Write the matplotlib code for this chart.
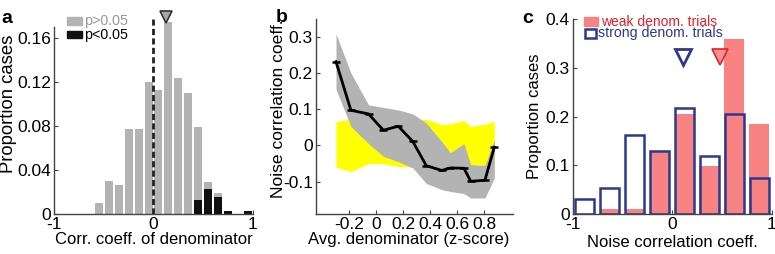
import numpy as np
import matplotlib
matplotlib.use("Agg")
import matplotlib.pyplot as plt
from matplotlib.patches import Rectangle

plt.rcParams["font.family"] = ["Liberation Sans", "DejaVu Sans"]
plt.rcParams["axes.unicode_minus"] = False

# ---- panel a: histogram of correlation coefficients ----
A_CENTERS = [-0.55, -0.45, -0.35, -0.25, -0.15, -0.05, 0.05, 0.15,
             0.25, 0.35, 0.45, 0.55, 0.65, 0.75, 0.85, 0.95]
A_ALL = [0.010, 0.030, 0.026, 0.077, 0.077, 0.120, 0.113, 0.174,
         0.123, 0.110, 0.079, 0.029, 0.019, 0.003, 0.0, 0.003]
A_SIG = [0, 0, 0, 0, 0, 0, 0, 0,
         0, 0, 0.0124, 0.0224, 0.0157, 0.003, 0.0, 0.003]
A_MEDIAN = 0.128

# ---- panel b: noise correlation vs avg denominator ----
B_X = [-0.295, -0.185, -0.055, 0.055, 0.165, 0.272, 0.372, 0.487,
       0.55, 0.65, 0.70, 0.805, 0.874]
B_Y = [0.231, 0.097, 0.087, 0.042, 0.053, 0.011, -0.056, -0.069,
       -0.062, -0.063, -0.099, -0.096, -0.005]
B_GRAY_HI = [0.308, 0.200, 0.112, 0.105, 0.098, 0.087, 0.062, 0.010,
             -0.020, 0.005, -0.053, -0.055, 0.016]
B_GRAY_LO = [0.155, 0.052, 0.005, -0.030, -0.045, -0.062, -0.105, -0.122,
             -0.127, -0.133, -0.145, -0.145, -0.090]
B_YEL_HI = [0.066, 0.073, 0.070, 0.070, 0.070, 0.070, 0.072, 0.057,
            0.060, 0.069, 0.052, 0.059, 0.066]
B_YEL_LO = [-0.060, -0.072, -0.050, -0.050, -0.058, -0.060, -0.060, -0.060,
            -0.055, -0.045, -0.053, -0.055, -0.050]

# ---- panel c: weak vs strong denominator trials ----
C_CENTERS = [-0.875, -0.625, -0.375, -0.125, 0.125, 0.375, 0.625, 0.875]
C_WEAK = [0.0, 0.010, 0.010, 0.130, 0.205, 0.098, 0.359, 0.185]
C_STRONG = [0.031, 0.053, 0.163, 0.130, 0.218, 0.120, 0.206, 0.075]
C_MED_WEAK = 0.48
C_MED_STRONG = 0.107

W, H = 775, 254
RED = "#F98383"
RED_TXT = "#E4202A"
NAVY = "#2B3990"
GRAY = "#B3B3B3"


def px(x, y):
    return x / W, 1 - y / H


def style(ax):
    for s in ("top", "right"):
        ax.spines[s].set_visible(False)
    for s in ("left", "bottom"):
        ax.spines[s].set_color("#444444")
        ax.spines[s].set_linewidth(1.0)
    ax.tick_params(direction="in", length=3, color="#444444",
                   labelsize=12.5, pad=2)


fig = plt.figure(figsize=(W / 100, H / 100), dpi=100)

# panel a
axa = fig.add_axes([54 / W, 1 - 214 / H, (253 - 54) / W, (214 - 26.7) / H])
axa.bar(A_CENTERS, A_ALL, width=0.08, color=GRAY, clip_on=False)
axa.bar(A_CENTERS, A_SIG, width=0.08, color="#111111", clip_on=False)
axa.plot([0, 0], [0, 0.178], color="#222222", lw=2, ls=(0, (2.2, 1.2)),
         clip_on=False)
axa.plot(A_MEDIAN, 0.179, marker="v", ms=9, mfc="#A8A8A8", mec="#333333",
         mew=1.2, clip_on=False)
axa.set_xlim(-1, 1)
axa.set_ylim(0, 0.17)
axa.set_xticks([-1, 0, 1])
axa.set_xticklabels(["-1", "0", "1"])
axa.set_yticks([0, 0.04, 0.08, 0.12, 0.16])
axa.set_yticklabels(["0", "0.04", "0.08", "0.12", "0.16"])
style(axa)
axa.set_xlabel("Corr. coeff. of denominator", fontsize=12)
axa.set_ylabel("Proportion cases", fontsize=13.3)
axa.xaxis.set_label_coords(0.5, -0.096)
axa.yaxis.set_label_coords(-0.186, 0.59)

# panel b
axb = fig.add_axes([315.7 / W, 1 - 214.3 / H, (512.7 - 315.7) / W,
                    (214.3 - 18.6) / H])
axb.fill_between(B_X, B_YEL_LO, B_YEL_HI, color="#FFFF00", lw=0)
axb.fill_between(B_X, B_GRAY_LO, B_GRAY_HI, color=GRAY, lw=0)
axb.plot(B_X, B_Y, color="black", lw=2, marker="_", ms=6, mew=1.8)
axb.set_xlim(-0.445, 1.01)
axb.set_ylim(-0.19, 0.35)
axb.set_xticks([-0.2, 0, 0.2, 0.4, 0.6, 0.8])
axb.set_xticklabels(["-0.2", "0", "0.2", "0.4", "0.6", "0.8"])
axb.set_yticks([-0.1, 0, 0.1, 0.2, 0.3])
axb.set_yticklabels(["-0.1", "0", "0.1", "0.2", "0.3"])
style(axb)
axb.set_xlabel("Avg. denominator (z-score)", fontsize=12)
axb.set_ylabel("Noise correlation coeff.", fontsize=12.6)
axb.xaxis.set_label_coords(0.47, -0.088)
axb.yaxis.set_label_coords(-0.153, 0.54)

# panel c
axc = fig.add_axes([572.5 / W, 1 - 214.3 / H, (771.7 - 572.5) / W,
                    (214.3 - 19) / H])
axc.bar(C_CENTERS, C_WEAK, width=0.2, color=RED, lw=0)
axc.bar(C_CENTERS, C_STRONG, width=0.19, facecolor="none", edgecolor=NAVY,
        lw=1.8)
axc.plot(C_MED_STRONG, 0.322, marker="v", ms=12, mfc="white", mec=NAVY,
         mew=2)
axc.plot(C_MED_WEAK, 0.322, marker="v", ms=12, mfc="#F99090", mec=RED_TXT,
         mew=1.2)
axc.set_xlim(-1, 1)
axc.set_ylim(0, 0.4)
axc.set_xticks([-1, 0, 1])
axc.set_xticklabels(["-1", "0", "1"])
axc.set_yticks([0, 0.1, 0.2, 0.3, 0.4])
axc.set_yticklabels(["0", "0.1", "0.2", "0.3", "0.4"])
style(axc)
axc.set_xlabel("Noise correlation coeff.", fontsize=12)
axc.set_ylabel("Proportion cases", fontsize=12)
axc.xaxis.set_label_coords(0.5, -0.108)
axc.yaxis.set_label_coords(-0.152, 0.5)

# legends drawn by hand, as in the original
ft = fig.transFigure
fig.patches.append(Rectangle(px(67, 25), 15 / W, 8 / H, color=GRAY,
                             transform=ft))
fig.patches.append(Rectangle(px(67, 38.3), 15 / W, 7.6 / H, color="#111111",
                             transform=ft))
fig.text(*px(84, 21), "p>0.05", color="#999999", fontsize=10.3, va="center")
fig.text(*px(84, 34.5), "p<0.05", color="black", fontsize=10.3, va="center")

fig.patches.append(Rectangle(px(584, 26), 14 / W, 9 / H, color=RED,
                             transform=ft))
fig.patches.append(Rectangle(px(585, 38), 11 / W, 9 / H, facecolor="none",
                             edgecolor=NAVY, lw=1.8, transform=ft))
fig.text(*px(601, 21.5), "weak denom. trials", color=RED_TXT, fontsize=10,
         va="center")
fig.text(*px(598, 33.5), "strong denom. trials", color=NAVY, fontsize=10.2,
         va="center")

# panel letters
fig.text(*px(1, 23), "a", fontsize=14, fontweight="bold", va="baseline")
fig.text(*px(276, 22), "b", fontsize=14, fontweight="bold", va="baseline")
fig.text(*px(522, 23), "c", fontsize=14, fontweight="bold", va="baseline")

fig.savefig("out.png", dpi=100)
